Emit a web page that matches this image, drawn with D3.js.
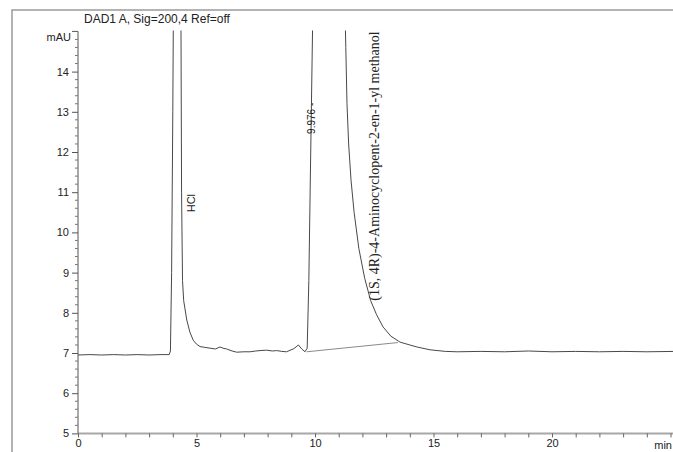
<!DOCTYPE html>
<html>
<head>
<meta charset="utf-8">
<script src="https://cdn.jsdelivr.net/npm/d3@7"></script>
<style>
  body { margin: 0; background: #ffffff; }
  svg { display: block; }
  text { font-family: "Liberation Sans", Arial, sans-serif; fill: #222222; }
</style>
</head>
<body>
<div id="chrom"></div>
<script>
// Signal trace (minutes, mAU); values above 15 run off the top
var traceTime = [0, 0.5, 1, 1.5, 2, 2.5, 3, 3.5, 3.85, 3.9, 3.95, 4.0, 4.03,
  4.34, 4.37, 4.41, 4.46, 4.59, 4.72, 4.86, 5.0, 5.15, 5.35, 5.57, 5.8, 5.99, 6.12, 6.27,
  6.5, 6.7, 7.0, 7.26, 7.5, 7.68, 7.96, 8.2, 8.38, 8.6, 8.8, 9.08, 9.2, 9.3, 9.44, 9.58,
  9.67, 9.74, 9.82, 9.92, 10.5, 11.0, 11.25,
  11.3, 11.35, 11.42, 11.52, 11.65, 11.85, 12.1, 12.35, 12.6, 12.87, 13.2, 13.59, 14.0,
  14.3, 14.85, 15.5, 16, 17, 18, 19, 20, 21, 22, 23, 24, 25.2];
var traceSignal = [6.95, 6.96, 6.95, 6.96, 6.95, 6.96, 6.95, 6.96, 6.96, 7.05, 9.0, 13.0, 16.0,
  16.0, 11.0, 8.8, 8.3, 7.82, 7.52, 7.32, 7.22, 7.16, 7.14, 7.12, 7.1, 7.15, 7.12, 7.1,
  7.05, 7.02, 7.03, 7.03, 7.05, 7.06, 7.07, 7.05, 7.06, 7.04, 7.03, 7.1, 7.15, 7.2, 7.1, 7.03,
  7.12, 8.8, 12.0, 16.0, 16.0, 16.0, 16.0,
  14.6, 13.2, 12.2, 11.3, 10.5, 9.6, 8.85, 8.3, 7.95, 7.65, 7.42, 7.27, 7.2,
  7.15, 7.08, 7.04, 7.03, 7.04, 7.03, 7.05, 7.03, 7.04, 7.03, 7.04, 7.03, 7.04];

// Drawn integration baseline under the 9.976 / main peak group
var baseTime = [9.65, 13.5];
var baseSignal = [7.03, 7.26];

// Peak annotations
var peakNames = ['HCl', '9.976 -', '(1S, 4R)-4-Aminocyclopent-2-en-1-yl methanol'];
var peakTimes = [4.95, 10.0, 12.7];
var peakLabelAt = [10.5, 12.45, 8.3];

// Axis ticks
var xMajor = [0, 5, 10, 15, 20];
var yMajor = [5, 6, 7, 8, 9, 10, 11, 12, 13, 14];

var width = 673, height = 452;
var svg = d3.select('#chrom').append('svg')
  .attr('width', width)
  .attr('height', height);

var x = d3.scaleLinear().domain([0, 25]).range([78, 670.5]);
var y = d3.scaleLinear().domain([5, 15]).range([433.4, 31.4]);

// Outer frame of the printout (left + top only, the rest is cut)
svg.append('path')
  .attr('d', 'M12,452 L12,10 L673,10')
  .attr('fill', 'none')
  .attr('stroke', '#9a9a9a')
  .attr('stroke-width', 1.5);

svg.append('text')
  .attr('x', 84)
  .attr('y', 23)
  .style('font-size', '12px')
  .text('DAD1 A, Sig=200,4 Ref=off');

// Clip the trace to the plotted range
svg.append('clipPath').attr('id', 'plotclip')
  .append('rect')
  .attr('x', x(0)).attr('y', y(15) - 1)
  .attr('width', width - x(0)).attr('height', y(5) - y(15) + 1);

// X axis
var xAxis = svg.append('g')
  .attr('transform', 'translate(0,' + y(5) + ')')
  .call(d3.axisBottom(x)
    .tickValues(d3.range(0, 26, 1))
    .tickSize(4)
    .tickFormat(function(d) { return xMajor.indexOf(d) >= 0 ? d : ''; }));
xAxis.select('.domain').attr('stroke', '#a8a8a8').attr('stroke-width', 2)
  .attr('d', 'M' + x(0) + ',0H' + width);
xAxis.selectAll('.tick line').attr('stroke', '#666');
xAxis.selectAll('.tick text')
  .attr('y', 6)
  .style('font-size', '11px')
  .attr('fill', '#222');
svg.append('text')
  .attr('x', 672)
  .attr('y', 449)
  .attr('text-anchor', 'end')
  .style('font-size', '11px')
  .text('min');

// Y axis: major ticks with labels, minor ticks every 0.2
var yAxis = svg.append('g')
  .attr('transform', 'translate(' + x(0) + ',0)')
  .call(d3.axisLeft(y)
    .tickValues(yMajor)
    .tickSize(6)
    .tickFormat(d3.format('d')));
yAxis.select('.domain').attr('stroke', '#555').attr('d', 'M-6,' + y(15) + 'H0V' + y(5));
yAxis.selectAll('.tick line').attr('stroke', '#555');
yAxis.selectAll('.tick text')
  .style('font-size', '11px')
  .attr('fill', '#222');

var yMinor = d3.range(5, 15, 0.2).filter(function(v) {
  return Math.abs(v - Math.round(v)) > 0.01;
});
svg.append('g').selectAll('line')
  .data(yMinor)
  .enter().append('line')
  .attr('x1', x(0) - 3)
  .attr('x2', x(0))
  .attr('y1', function(d) { return y(d); })
  .attr('y2', function(d) { return y(d); })
  .attr('stroke', '#777');

svg.append('text')
  .attr('x', 71)
  .attr('y', y(15) + 10)
  .attr('text-anchor', 'end')
  .style('font-size', '11px')
  .text('mAU');

// Integration baseline
var line = d3.line()
  .x(function(d) { return x(d[0]); })
  .y(function(d) { return y(d[1]); });

svg.append('path')
  .attr('clip-path', 'url(#plotclip)')
  .attr('d', line(d3.zip(baseTime, baseSignal)))
  .attr('fill', 'none')
  .attr('stroke', '#8a8a8a')
  .attr('stroke-width', 1);

// Trace
svg.append('path')
  .attr('clip-path', 'url(#plotclip)')
  .attr('d', line(d3.zip(traceTime, traceSignal)))
  .attr('fill', 'none')
  .attr('stroke', '#484848')
  .attr('stroke-width', 1);

// Peak labels, rotated to read bottom-to-top
var fonts = ['11px "Liberation Sans", Arial, sans-serif',
  '10px "Liberation Sans", Arial, sans-serif',
  '14px "Liberation Serif", "Times New Roman", serif'];
svg.append('g').selectAll('text')
  .data(peakNames)
  .enter().append('text')
  .attr('transform', function(d, i) {
    return 'translate(' + x(peakTimes[i]) + ',' + y(peakLabelAt[i]) + ') rotate(-90)';
  })
  .style('font', function(d, i) { return fonts[i]; })
  .attr('fill', '#1e1e2a')
  .text(function(d) { return d; });
</script>
</body>
</html>
